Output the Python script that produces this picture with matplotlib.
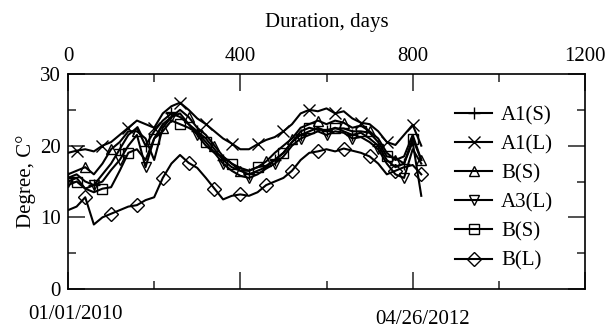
import numpy as np
import matplotlib
matplotlib.use("Agg")
import matplotlib.pyplot as plt
from matplotlib.ticker import MultipleLocator

days = np.arange(0, 821, 20)

a1_s = [15.5, 16.0, 15.0, 14.5, 16.0, 17.5, 19.5, 21.5, 22.5, 20.0, 22.0, 23.5, 24.5, 24.0,
        23.0, 22.0, 21.0, 19.5, 18.0, 17.0, 16.5, 16.0, 16.5, 17.0, 18.0, 19.0, 20.5, 21.5,
        22.0, 22.5, 22.0, 22.5, 22.0, 21.5, 21.8, 21.0, 20.0, 18.0, 17.0, 17.5, 20.5, 13.0]
a1_l = [19.0, 19.3, 19.5, 19.2, 20.0, 20.5, 21.5, 22.5, 23.5, 23.0, 22.5, 24.5, 25.5, 26.0,
        25.0, 23.8, 23.0, 22.0, 21.0, 20.3, 19.5, 19.5, 20.2, 20.8, 21.2, 22.0, 23.0, 24.5,
        25.0, 24.8, 25.2, 24.5, 24.8, 23.8, 23.2, 23.0, 22.0, 20.5, 20.1, 21.5, 22.9, 20.0]
b_s1 = [16.0, 16.5, 17.0, 16.0, 17.5, 19.5, 20.5, 22.0, 22.0, 21.0, 18.0, 22.5, 24.0, 25.0,
        24.0, 22.5, 21.5, 20.0, 18.5, 17.5, 16.5, 16.5, 17.0, 17.8, 19.0, 20.0, 21.0, 22.5,
        23.0, 23.5, 23.0, 23.5, 23.2, 22.5, 22.8, 22.0, 21.0, 19.0, 18.0, 18.5, 21.5, 18.0]
a3_l = [15.0, 15.5, 14.0, 14.5, 15.0, 16.6, 18.0, 20.0, 21.5, 17.0, 21.0, 23.0, 24.0, 24.5,
        23.0, 21.5, 20.0, 19.0, 17.5, 16.5, 15.8, 15.5, 16.0, 16.8, 17.5, 18.5, 20.0, 21.0,
        21.5, 22.0, 21.5, 22.0, 21.8, 21.0, 21.2, 20.5, 19.5, 17.5, 16.0, 15.5, 19.5, 17.5]
b_s2 = [14.5, 15.0, 14.0, 13.5, 14.0, 14.2, 16.5, 19.0, 19.5, 18.0, 21.0, 22.0, 23.5, 23.0,
        22.5, 21.8, 20.5, 19.0, 18.4, 17.5, 16.9, 16.5, 17.0, 17.2, 18.0, 19.0, 20.5, 22.0,
        22.5, 22.2, 22.2, 22.4, 22.4, 22.0, 22.0, 21.8, 20.5, 18.5, 18.3, 17.5, 21.0, 18.0]
b_l = [11.0, 11.5, 12.8, 9.0, 10.0, 10.5, 11.0, 11.5, 11.7, 12.4, 12.8, 15.5, 17.5, 18.7,
       17.6, 16.9, 15.5, 14.0, 12.5, 13.0, 13.2, 13.0, 13.5, 14.5, 15.0, 15.5, 16.5, 18.0,
       19.0, 19.2, 19.5, 19.2, 19.6, 19.3, 19.0, 18.5, 17.5, 16.0, 16.5, 17.0, 17.3, 16.0]

series = [a1_s, a1_l, b_s1, a3_l, b_s2, b_l]
labels = ["A1(S)", "A1(L)", "B(S)", "A3(L)", "B(S)", "B(L)"]
markers = ["+", "x", "^", "v", "s", "D"]
offsets = [0, 1, 2, 0, 1, 2]

plt.rcParams["font.family"] = ["Liberation Serif", "DejaVu Serif"]
plt.rcParams["font.size"] = 15

fig = plt.figure(figsize=(6.16, 3.33), dpi=100)
ax = fig.add_axes([68 / 616, 44 / 333, 517 / 616, 215 / 333])

for vals, lab, mk, off in zip(series, labels, markers, offsets):
    ms = 8 if mk in ("+", "x") else 7
    ax.plot(days, vals, color="black", lw=1.5, marker=mk, ms=ms, mew=1.0,
            fillstyle="none", markevery=(off, 3), label=lab)

ax.set_xlim(0, 1200)
ax.set_ylim(0, 30)
ax.xaxis.set_major_locator(MultipleLocator(400))
ax.xaxis.set_minor_locator(MultipleLocator(200))
ax.yaxis.set_major_locator(MultipleLocator(10))
ax.yaxis.set_minor_locator(MultipleLocator(5))
ax.tick_params(which="both", direction="in", top=True, bottom=True, left=True, right=True,
               labeltop=True, labelbottom=False, width=1.1, color="#222222")
ax.tick_params(which="major", length=12)
ax.tick_params(which="minor", length=6)
ax.tick_params(axis="x", pad=6)
ax.tick_params(axis="y", pad=5)
for sp in ax.spines.values():
    sp.set_linewidth(1.2)

ax.xaxis.set_label_position("top")
ax.set_xlabel("Duration, days", labelpad=14)
ax.set_ylabel("Degree, C°", labelpad=3)

ax.text(0.015, -0.12, "01/01/2010", transform=ax.transAxes, ha="center", va="center")
ax.text(0.685, -0.14, "04/26/2012", transform=ax.transAxes, ha="center", va="center")

ax.legend(loc="upper left", bbox_to_anchor=(445 / 616, 1 - 95 / 333),
          bbox_transform=fig.transFigure, frameon=False, borderpad=0,
          handlelength=1.75, handletextpad=0.45, labelspacing=0.46)

fig.savefig("out.png", dpi=100)
